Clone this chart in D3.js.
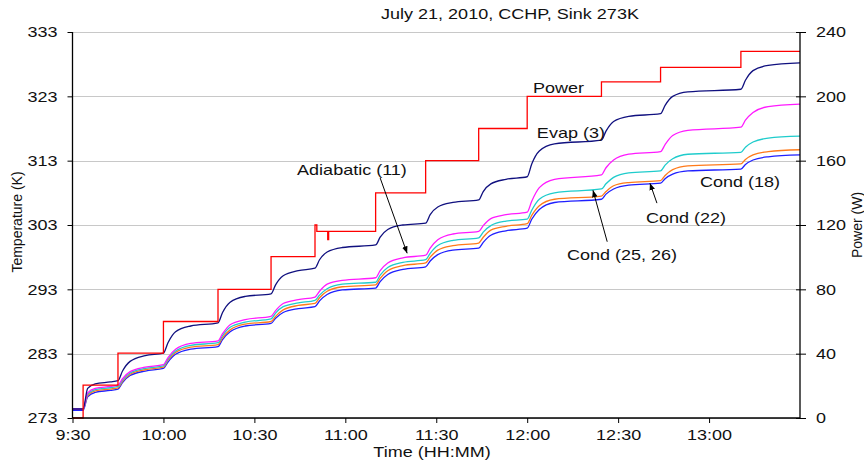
<!DOCTYPE html>
<html>
<head>
<meta charset="utf-8">
<script src="https://cdn.jsdelivr.net/npm/d3@7"></script>
<style>
  html, body { margin: 0; padding: 0; background: #fff; }
  svg { display: block; font-family: "Liberation Sans", Arial, sans-serif; }
</style>
</head>
<body>
<svg id="chart" width="864" height="463"></svg>
<script>
// ---- data (minutes after 9:30) ----
const sampleMinutes = [0,
  3.5,5,7.5,12.5,
  15,16.5,19,24,
  30,31.5,34,39,
  48,49.5,52,57,
  65.5,67,69.5,74.5,
  80,81.5,84,89,
  100,101.5,104,109,
  116.5,118,120.5,125.5,
  134,135.5,138,143,
  150,151.5,154,159,
  174.5,176,178.5,183.5,
  194,195.5,198,203,
  220.5,222,224.5,229.5,
  240];

const evap3 = [274.4,
  274.4,277.6,278.3,278.6,
  278.8,280.3,281.8,282.7,
  283.1,284.7,286.4,287.3,
  287.8,289.4,291.0,291.9,
  292.3,293.7,295.1,295.9,
  296.3,297.6,298.8,299.5,
  299.9,301.1,302.3,303.0,
  303.3,304.6,305.8,306.5,
  306.9,308.2,309.4,310.1,
  310.5,312.5,314.5,315.6,
  316.2,317.6,319.1,319.9,
  320.3,321.6,323.0,323.7,
  324.1,325.5,327.0,327.8,
  328.2];

const adiabatic11 = [274.4,
  274.4,276.9,277.6,277.9,
  278.1,279.1,280.2,280.9,
  281.3,282.4,283.7,284.6,
  285.0,286.1,287.5,288.3,
  288.8,289.7,290.8,291.4,
  291.8,292.7,293.8,294.4,
  294.8,295.9,297.1,297.9,
  298.3,299.4,300.7,301.6,
  302.0,302.9,304.0,304.6,
  305.0,306.7,308.8,310.1,
  310.8,311.9,313.1,314.0,
  314.4,315.5,316.9,317.7,
  318.2,319.3,320.5,321.4,
  321.8];

const cond25 = [274.4,
  274.4,276.7,277.4,277.7,
  277.9,278.9,280.0,280.7,
  281.1,282.2,283.4,284.3,
  284.7,285.8,287.1,287.9,
  288.4,289.3,290.3,290.9,
  291.3,292.1,293.1,293.8,
  294.1,295.2,296.4,297.2,
  297.6,298.6,299.8,300.6,
  301.0,301.9,302.9,303.6,
  303.9,305.3,307.0,308.0,
  308.6,309.4,310.4,311.1,
  311.4,312.3,313.3,314.0,
  314.3,315.1,315.9,316.5,
  316.8];

const cond22 = [274.4,
  274.4,276.5,277.2,277.5,
  277.7,278.7,279.8,280.5,
  280.9,282.0,283.2,284.0,
  284.4,285.5,286.7,287.6,
  288.0,288.8,289.8,290.5,
  290.8,291.7,292.7,293.4,
  293.7,294.7,295.9,296.7,
  297.1,298.0,299.1,299.8,
  300.2,301.1,302.2,302.8,
  303.2,304.5,306.0,307.0,
  307.5,308.2,309.1,309.6,
  309.9,310.7,311.6,312.2,
  312.5,313.2,313.9,314.4,
  314.7];

const cond18 = [274.2,
  274.2,276.3,277.0,277.3,
  277.5,278.5,279.6,280.3,
  280.7,281.7,282.9,283.7,
  284.1,285.2,286.4,287.3,
  287.7,288.5,289.4,290.0,
  290.3,291.2,292.2,292.9,
  293.2,294.2,295.3,296.1,
  296.5,297.4,298.4,299.1,
  299.4,300.3,301.4,302.1,
  302.5,303.9,305.4,306.5,
  307.0,307.8,308.6,309.2,
  309.5,310.2,310.9,311.4,
  311.7,312.4,313.1,313.6,
  313.9];

const powerMinutes = [0, 3.5, 15, 30, 48, 65.5, 80, 80.6, 84.2, 84.5, 100, 116.5, 134, 150, 174.5, 194, 220.5, 240];
const powerWatts   = [0, 20.5, 40.3, 60, 80, 100.3, 120, 116, 111, 116, 140, 160, 180, 200, 209, 218, 228, 228];

const tempTicks  = [273, 283, 293, 303, 313, 323, 333];
const powerTicks = [0, 40, 80, 120, 160, 200, 240];
const timeTicks  = [0, 30, 60, 90, 120, 150, 180, 210];
const timeTickLabels = ["9:30", "10:00", "10:30", "11:00", "11:30", "12:00", "12:30", "13:00"];

const titleText = "July 21, 2010, CCHP, Sink 273K";

// ---- drawing ----
const svg = d3.select("#chart");
const L = 72.5, R = 800, T = 32, B = 418;
const STRETCH = 1.2;

function stretch(sel) {
  sel.each(function() {
    const w = this.getComputedTextLength();
    d3.select(this).attr("textLength", w * STRETCH).attr("lengthAdjust", "spacingAndGlyphs");
  });
}

const x = d3.scaleLinear().domain([0, 240]).range([L, R]);
const yT = d3.scaleLinear().domain([273, 333]).range([B, T]);
const yP = d3.scaleLinear().domain([0, 240]).range([B, T]);

// gridlines
svg.append("g").selectAll("line").data(tempTicks).join("line")
  .attr("x1", L).attr("x2", R)
  .attr("y1", d => Math.round(yT(d)) + 0.5).attr("y2", d => Math.round(yT(d)) + 0.5)
  .attr("stroke", "#c8c8c8").attr("stroke-width", 1);

// series
const series = [
  {vals: cond18, color: "#1f1fff"},
  {vals: cond22, color: "#ff7a1a"},
  {vals: cond25, color: "#1fcccc"},
  {vals: adiabatic11, color: "#ff1aff"},
  {vals: evap3, color: "#10107f"}
];
const line = d3.line().x(d => x(d[0])).y(d => yT(d[1])).curve(d3.curveMonotoneX);
svg.append("g").selectAll("path").data(series).join("path")
  .attr("d", s => line(sampleMinutes.map((m, i) => [m, s.vals[i]])))
  .attr("fill", "none").attr("stroke", s => s.color).attr("stroke-width", 1.3);

const pline = d3.line().x(d => x(d[0])).y(d => yP(d[1])).curve(d3.curveStepAfter);
svg.append("path")
  .attr("d", pline(powerMinutes.map((m, i) => [m, powerWatts[i]])))
  .attr("fill", "none").attr("stroke", "#ff0000").attr("stroke-width", 1.3);

// axes
const axL = svg.append("g").attr("transform", `translate(${L},0)`)
  .call(d3.axisLeft(yT).tickValues(tempTicks).tickSize(5).tickPadding(10).tickFormat(d3.format("d")));
const axR = svg.append("g").attr("transform", `translate(${R},0)`)
  .call(d3.axisRight(yP).tickValues(powerTicks).tickSize(6).tickPadding(10).tickFormat(d3.format("d")));
axR.selectAll(".tick line").attr("x1", -4);
const axB = svg.append("g").attr("transform", `translate(0,${B})`)
  .call(d3.axisBottom(x).tickValues(timeTicks).tickSize(5).tickPadding(6)
    .tickFormat((d, i) => timeTickLabels[i]));
[axL, axR, axB].forEach(a => {
  a.select(".domain").attr("stroke", "#000").attr("stroke-width", 1.3);
  a.selectAll(".tick line").attr("stroke", "#000");
  a.selectAll("text").attr("font-size", 15).attr("fill", "#111")
    .attr("font-family", '"Liberation Sans", Arial, sans-serif');
  stretch(a.selectAll("text"));
});
axL.select(".domain").attr("d", `M0,${T}V${B}`);
axR.select(".domain").attr("d", `M0,${T}V${B}`);
axB.select(".domain").attr("d", `M${L},0H${R}`);

// titles
const tTitle = svg.append("text").attr("x", 510).attr("y", 19).attr("text-anchor", "middle")
  .attr("font-size", 15).attr("fill", "#111").text(titleText);
const tX = svg.append("text").attr("x", 432).attr("y", 457).attr("text-anchor", "middle")
  .attr("font-size", 15).attr("fill", "#111").text("Time (HH:MM)");
svg.append("text").attr("transform", "translate(22,222) rotate(-90)").attr("text-anchor", "middle")
  .attr("font-size", 14).attr("fill", "#111").text("Temperature (K)");
svg.append("text").attr("transform", "translate(862,225) rotate(-90)").attr("text-anchor", "middle")
  .attr("font-size", 14).attr("fill", "#111").text("Power (W)");
stretch(tTitle); stretch(tX);

// annotations (data coordinates: minutes, K)
const notes = [
  {t: 151.9, k: 323.5, label: "Power"},
  {t: 153.2, k: 316.5, label: "Evap (3)"},
  {t: 74.1,  k: 310.8, label: "Adiabatic (11)"},
  {t: 207.0, k: 308.9, label: "Cond (18)"},
  {t: 189.2, k: 303.3, label: "Cond (22)"},
  {t: 163.1, k: 297.6, label: "Cond (25, 26)"}
];
const noteSel = svg.append("g").selectAll("text").data(notes).join("text")
  .attr("x", d => x(d.t)).attr("y", d => yT(d.k))
  .attr("font-size", 15).attr("fill", "#111").text(d => d.label);
stretch(noteSel);

svg.append("defs").append("marker").attr("id", "ah")
  .attr("viewBox", "0 0 10 10").attr("refX", 10).attr("refY", 5)
  .attr("markerWidth", 7).attr("markerHeight", 7).attr("orient", "auto")
  .append("path").attr("d", "M0,1L10,5L0,9Z").attr("fill", "#000");
const arrows = [
  {t1: 101.5, k1: 310.3, t2: 110.4, k2: 298.6},
  {t1: 192.8, k1: 306.4, t2: 190.5, k2: 309.5},
  {t1: 176.4, k1: 300.4, t2: 171.7, k2: 308.4}
];
svg.append("g").selectAll("line").data(arrows).join("line")
  .attr("x1", d => x(d.t1)).attr("y1", d => yT(d.k1))
  .attr("x2", d => x(d.t2)).attr("y2", d => yT(d.k2))
  .attr("stroke", "#000").attr("stroke-width", 1).attr("marker-end", "url(#ah)");
</script>
</body>
</html>
